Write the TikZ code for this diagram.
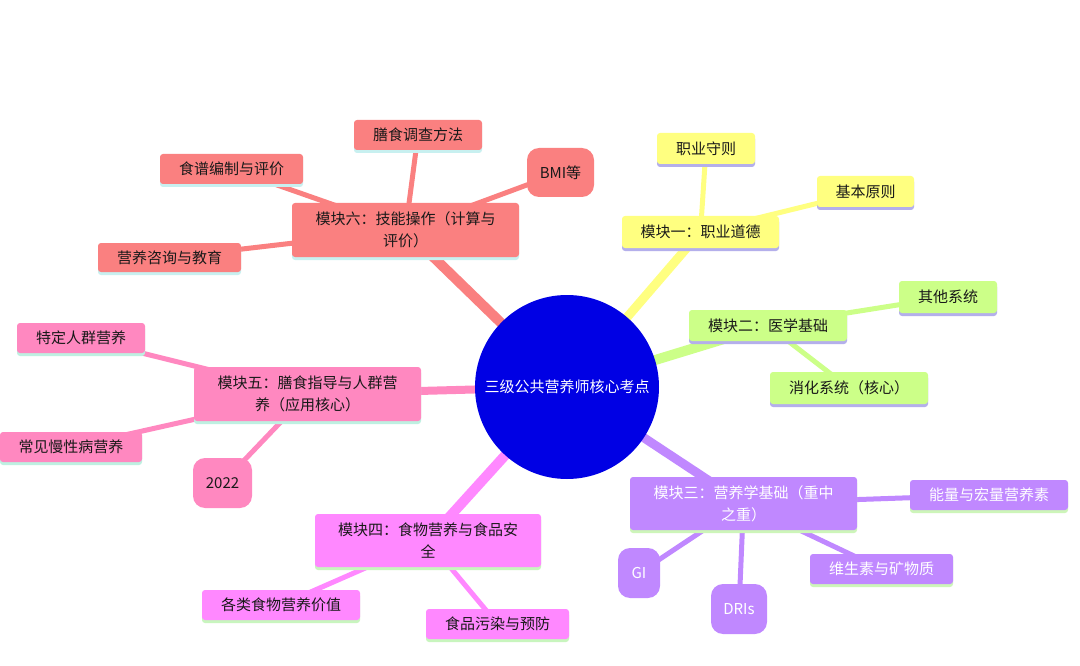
\documentclass[tikz,border=0pt]{standalone}
\usepackage{fontspec}
\newfontfamily\cjk{Noto Sans CJK SC}
\usetikzlibrary{shadows,backgrounds}
\definecolor{cblue}{RGB}{0,0,228}
\definecolor{csix}{RGB}{250,128,128}
\definecolor{cone}{RGB}{255,255,128}
\definecolor{ctwo}{RGB}{204,255,136}
\definecolor{cthree}{RGB}{192,136,255}
\definecolor{cfour}{RGB}{255,136,255}
\definecolor{cfive}{RGB}{255,136,192}
\definecolor{shsix}{RGB}{200,240,240}
\definecolor{shone}{RGB}{180,175,235}
\definecolor{shfive}{RGB}{190,240,225}
\definecolor{shfour}{RGB}{200,245,190}
\definecolor{shthree}{RGB}{205,245,185}
\begin{document}
\begin{tikzpicture}[x=1pt,y=-1pt,
  box/.style={rectangle, rounded corners=3pt, font=\cjk\fontsize{15}{22}\selectfont, align=center, inner sep=0pt, text=black!90},
  lbox/.style={box, rounded corners=12pt},
  sh/.style={drop shadow={shadow xshift=0pt, shadow yshift=-3pt, fill=#1, opacity=1}},
  mainline/.style={line width=10pt},
  subline/.style={line width=5pt},
]
% centre
\node[circle, fill=cblue, minimum size=184pt, inner sep=0pt, text=white, font=\cjk\fontsize{15}{22}\selectfont] (c) at (567,387) {三级公共营养师核心考点};

% module six
\node[box, sh=shsix, fill=csix, minimum width=227pt, minimum height=54pt] (m6) at (405.5,230) {模块六：技能操作（计算与\\评价）};
\node[box, sh=shsix, fill=csix, minimum width=128pt, minimum height=30pt] (m6a) at (418,135) {膳食调查方法};
\node[box, sh=shsix, fill=csix, minimum width=143pt, minimum height=30pt] (m6b) at (231.5,169) {食谱编制与评价};
\node[lbox, fill=csix, minimum width=67pt, minimum height=49pt] (m6c) at (560.5,172.5) {BMI等};
\node[box, sh=shsix, fill=csix, minimum width=143pt, minimum height=29pt] (m6d) at (169.5,257.5) {营养咨询与教育};

% module one
\node[box, sh=shone, fill=cone, minimum width=157pt, minimum height=32pt] (m1) at (700.5,232) {模块一：职业道德};
\node[box, sh=shone, fill=cone, minimum width=98pt, minimum height=31pt] (m1a) at (706,148.5) {职业守则};
\node[box, sh=shone, fill=cone, minimum width=97pt, minimum height=31pt] (m1b) at (865.5,191.5) {基本原则};

% module two
\node[box, sh=shone, fill=ctwo, minimum width=158pt, minimum height=31pt] (m2) at (768,325.5) {模块二：医学基础};
\node[box, sh=shone, fill=ctwo, minimum width=98pt, minimum height=32pt] (m2a) at (948,297) {其他系统};
\node[box, sh=shone, fill=ctwo, minimum width=158pt, minimum height=32pt] (m2b) at (849,388) {消化系统（核心）};

% module three
\node[box, sh=shthree, fill=cthree, text=white, minimum width=227pt, minimum height=53pt] (m3) at (743.5,503.5) {模块三：营养学基础（重中\\之重）};
\node[box, sh=shthree, fill=cthree, text=white, minimum width=158pt, minimum height=30pt] (m3a) at (989,495) {能量与宏量营养素};
\node[box, sh=shthree, fill=cthree, text=white, minimum width=143pt, minimum height=30pt] (m3b) at (881.5,569) {维生素与矿物质};
\node[lbox, fill=cthree, text=white, minimum width=42pt, minimum height=50pt] (m3c) at (639,573) {GI};
\node[lbox, fill=cthree, text=white, minimum width=56pt, minimum height=50pt] (m3d) at (739,609) {DRIs};

% module four
\node[box, sh=shfour, fill=cfour, minimum width=226pt, minimum height=53pt] (m4) at (428,540.5) {模块四：食物营养与食品安\\全};
\node[box, sh=shfour, fill=cfour, minimum width=158pt, minimum height=30pt] (m4a) at (281,605) {各类食物营养价值};
\node[box, sh=shfour, fill=cfour, minimum width=143pt, minimum height=30pt] (m4b) at (497.5,624) {食品污染与预防};

% module five
\node[box, sh=shfive, fill=cfive, minimum width=227pt, minimum height=54pt] (m5) at (307.5,394) {模块五：膳食指导与人群营\\养（应用核心）};
\node[box, sh=shfive, fill=cfive, minimum width=128pt, minimum height=30pt] (m5a) at (81,338) {特定人群营养};
\node[box, sh=shfive, fill=cfive, minimum width=142pt, minimum height=30pt] (m5b) at (71,447) {常见慢性病营养};
\node[lbox, fill=cfive, minimum width=59pt, minimum height=50pt] (m5c) at (222.5,483) {2022};

\begin{pgfonlayer}{background}
  \fill[white] (0,0) rectangle (1080,666);
  \draw[mainline, csix] (c.center) -- (m6.center);
  \draw[mainline, cone, line width=9pt] (c.center) -- (m1.center);
  \draw[mainline, ctwo] (c.center) -- (m2.center);
  \draw[mainline, cthree, line width=9pt] (c.center) -- (m3.center);
  \draw[mainline, cfour] (c.center) -- (m4.center);
  \draw[mainline, cfive, line width=8pt] (c.center) -- (m5.center);
  \foreach \a in {m6a,m6b,m6c,m6d} \draw[subline, csix] (m6.center) -- (\a.center);
  \foreach \a in {m1a,m1b} \draw[subline, cone] (m1.center) -- (\a.center);
  \foreach \a in {m2a,m2b} \draw[subline, ctwo] (m2.center) -- (\a.center);
  \foreach \a in {m3a,m3b,m3c,m3d} \draw[subline, cthree] (m3.center) -- (\a.center);
  \foreach \a in {m4a,m4b} \draw[subline, cfour] (m4.center) -- (\a.center);
  \foreach \a in {m5a,m5b,m5c} \draw[subline, cfive] (m5.center) -- (\a.center);
\end{pgfonlayer}
\useasboundingbox (0,0) rectangle (1080,666);
\end{tikzpicture}
\end{document}
